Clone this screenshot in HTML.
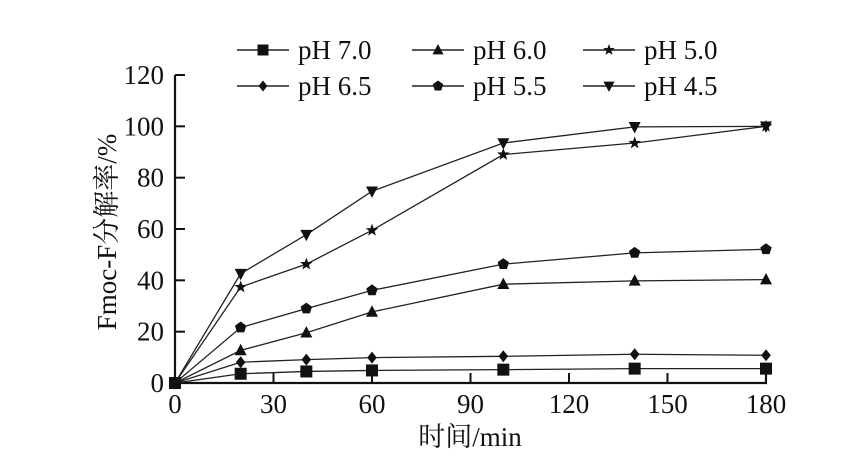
<!DOCTYPE html>
<html><head><meta charset="utf-8"><style>
body{margin:0;background:#fff;}
svg{display:block;}
text{font-family:"Liberation Serif","Noto Serif CJK SC",serif;fill:#111;}
</style></head><body>
<svg id="chart" width="843" height="467" viewBox="0 0 843 467">
<g id="axes"></g><g id="series"></g><g id="legend"></g>
</svg>
<script>
const times = [0, 20, 40, 60, 100, 140, 180];
const seriesNames = ["pH 7.0","pH 6.0","pH 5.0","pH 6.5","pH 5.5","pH 4.5"];
const markers = ["square","triangle","star","diamond","pentagon","invtriangle"];
const ph70 = [0, 3.6, 4.5, 4.9, 5.2, 5.6, 5.6];
const ph60 = [0, 12.7, 19.6, 27.7, 38.5, 39.8, 40.3];
const ph50 = [0, 37.4, 46.3, 59.5, 89.0, 93.5, 100];
const ph65 = [0, 8.1, 9.1, 9.9, 10.4, 11.2, 10.8];
const ph55 = [0, 21.6, 29.0, 36.1, 46.3, 50.7, 52.1];
const ph45 = [0, 42.6, 57.8, 74.7, 93.5, 99.8, 100];
const xTicks = [0,30,60,90,120,150,180];
const yTicks = [0,20,40,60,80,100,120];

const NS="http://www.w3.org/2000/svg";
const X0=175,X1=766,Y0=383,Y1=75;
const xs=v=>X0+(X1-X0)*v/180;
const ys=v=>Y0-(Y0-Y1)*v/120;
function mk(tag,attrs,parent){const e=document.createElementNS(NS,tag);for(const k in attrs)e.setAttribute(k,attrs[k]);parent.appendChild(e);return e;}
const axes=document.getElementById('axes');
const ax=mk('path',{d:`M${X0},${Y1} L${X0},${Y0} L${X1},${Y0} L${X1},${Y0-10}`,stroke:'#111','stroke-width':2.2,fill:'none'},axes);


xTicks.forEach(t=>{
  const l=mk('line',{x1:xs(t),x2:xs(t),y1:Y0,y2:Y0-10,stroke:'#111','stroke-width':2},axes);
  
  
  const tx=mk('text',{x:xs(t),y:Y0+30,'text-anchor':'middle','font-size':27},axes);
  tx.textContent=t;
  
  
});
yTicks.forEach(t=>{
  const l=mk('line',{x1:X0,x2:X0+10,y1:ys(t),y2:ys(t),stroke:'#111','stroke-width':2},axes);
  
  
  const tx=mk('text',{x:164,y:ys(t)+9,'text-anchor':'end','font-size':27},axes);
  tx.textContent=t;
  
  
});
const xt=mk('text',{x:470,y:446,'text-anchor':'middle','font-size':27},axes);
xt.textContent='时间/min';


const yt=mk('text',{x:0,y:0,'text-anchor':'middle','font-size':27,transform:'translate(116,232) rotate(-90)'},axes);
yt.textContent='Fmoc-F分解率/%';



function marker(type,x,y,s,parent){
  let e;
  if(type==='square')e=mk('rect',{x:x-s,y:y-s,width:2*s,height:2*s},parent);
  else if(type==='triangle')e=mk('polygon',{points:`${x},${y-s*1.1} ${x-s},${y+s*0.8} ${x+s},${y+s*0.8}`},parent);
  else if(type==='invtriangle')e=mk('polygon',{points:`${x},${y+s*1.1} ${x-s},${y-s*0.8} ${x+s},${y-s*0.8}`},parent);
  else if(type==='diamond')e=mk('polygon',{points:`${x},${y-s} ${x+s*0.8},${y} ${x},${y+s} ${x-s*0.8},${y}`},parent);
  else if(type==='pentagon'){let p=[];for(let i=0;i<5;i++){const a=-Math.PI/2+i*2*Math.PI/5;p.push((x+s*Math.cos(a))+','+(y+s*Math.sin(a)));}e=mk('polygon',{points:p.join(' ')},parent);}
  else {let p=[];for(let i=0;i<10;i++){const a=-Math.PI/2+i*Math.PI/5;const r=i%2?s*0.45:s*1.1;p.push((x+r*Math.cos(a))+','+(y+r*Math.sin(a)));}e=mk('polygon',{points:p.join(' ')},parent);}
  e.setAttribute('fill','#111');
  return e;
}
const data=[ph70,ph60,ph50,ph65,ph55,ph45];
const sg=document.getElementById('series');
data.forEach((vals,si)=>{
  const g=mk('g',{},sg);
  
  
  const pl=mk('polyline',{points:vals.map((v,i)=>xs(times[i])+','+ys(v)).join(' '),fill:'none',stroke:'#222','stroke-width':1.3},g);
  
  
  vals.forEach((v,i)=>{
    const m=marker(markers[si],xs(times[i]),ys(v),6,g);
    
    
  });
});
const lg=document.getElementById('legend');
const colX=[237,412,583], rowY=[50,86];
seriesNames.forEach((n,i)=>{
  const c=i%3,r=Math.floor(i/3);
  const g=mk('g',{},lg);
  
  
  mk('line',{x1:colX[c],x2:colX[c]+52,y1:rowY[r],y2:rowY[r],stroke:'#222','stroke-width':1.5},g);
  marker(markers[i],colX[c]+26,rowY[r],5.5,g);
  const t=mk('text',{x:colX[c]+61,y:rowY[r]+9,'font-size':27},g);
  t.textContent=n;
});
</script>
</body></html>
